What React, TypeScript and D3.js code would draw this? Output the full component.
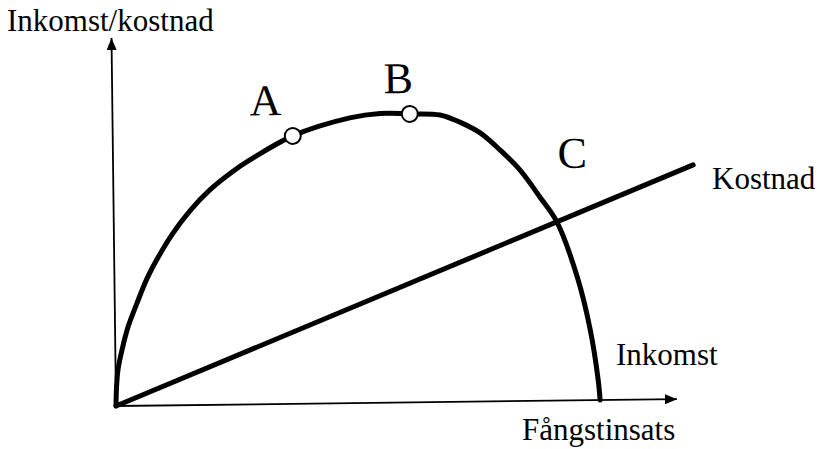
import React, { useRef, useEffect } from 'react'
import { select, scaleLinear, line, curveCatmullRom } from 'd3'

// Fångstinsats (effort) and inkomst (revenue)
const effort = [0, 0.13, 0.43, 1.19, 2.31, 3.97, 5.8, 7.81, 10.35, 13.6, 17.2, 21.2, 24.4, 32.1, 42.3, 47.7, 53.0, 58.4, 61.9, 65.5, 69.0, 72.5, 76.0, 79.0, 82.5, 84.7, 86.0, 86.3]
const income = [0, 4.9, 9.8, 15.2, 21.4, 27.9, 34.5, 40.2, 46.4, 52.8, 58.4, 63.2, 66.4, 72.8, 77.5, 78.6, 78.4, 78.0, 76.0, 73.0, 68.3, 62.8, 55.4, 48.5, 33.5, 19.1, 5.5, 0]

// Kostnad (cost) line
const costEffort = [0, 103.4]
const costValue = [0, 63.6]

// labelled points
const pointLabels = ['A', 'B', 'C']
const pointEffort = [32.1, 53.0, 79.0]
const pointIncome = [72.8, 78.4, 48.5]
const pointOpen = [true, true, false]

const width = 823
const height = 449

function App() {
  const svgRef = useRef(null)

  useEffect(() => {
    const svg = select(svgRef.current)
    svg.selectAll('*').remove()

    const x = scaleLinear().domain([0, 100]).range([116, 677])
    const y = scaleLinear().domain([0, 100]).range([406, 38])
    const font = '"Liberation Serif", "Times New Roman", serif'

    svg.append('defs')
      .append('marker')
      .attr('id', 'arrow')
      .attr('markerUnits', 'userSpaceOnUse')
      .attr('viewBox', '0 0 12 10')
      .attr('refX', 12)
      .attr('refY', 5)
      .attr('markerWidth', 12)
      .attr('markerHeight', 10)
      .attr('orient', 'auto')
      .append('path')
      .attr('d', 'M0,0 L12,5 L0,10 Z')
      .attr('fill', '#000')

    // scanned figure is slightly tilted
    const g = svg.append('g')
      .attr('transform', `rotate(-0.7, ${x(0)}, ${y(0)})`)

    // axes
    g.append('line')
      .attr('x1', x(0)).attr('y1', y(0))
      .attr('x2', x(100)).attr('y2', y(0))
      .attr('stroke', '#000').attr('stroke-width', 1.8)
      .attr('marker-end', 'url(#arrow)')
    g.append('line')
      .attr('x1', x(0)).attr('y1', y(0))
      .attr('x2', x(0)).attr('y2', y(100))
      .attr('stroke', '#000').attr('stroke-width', 1.8)
      .attr('marker-end', 'url(#arrow)')

    // income curve
    const pts = effort.map((e, i) => [e, income[i]])
    const lineGen = line().x(d => x(d[0])).y(d => y(d[1])).curve(curveCatmullRom.alpha(0.5))
    g.append('path')
      .datum(pts)
      .attr('d', lineGen)
      .attr('fill', 'none')
      .attr('stroke', '#000')
      .attr('stroke-width', 5)
      .attr('stroke-linecap', 'round')

    // cost line
    const costPts = costEffort.map((e, i) => [e, costValue[i]])
    g.append('path')
      .datum(costPts)
      .attr('d', line().x(d => x(d[0])).y(d => y(d[1])))
      .attr('fill', 'none')
      .attr('stroke', '#000')
      .attr('stroke-width', 5)
      .attr('stroke-linecap', 'round')

    // points
    const offsets = [[-27, -21], [-11, -21], [16, -54]]
    pointLabels.forEach((lab, i) => {
      const px = x(pointEffort[i])
      const py = y(pointIncome[i])
      if (pointOpen[i]) {
        g.append('circle')
          .attr('cx', px).attr('cy', py).attr('r', 8)
          .attr('fill', '#fff').attr('stroke', '#000').attr('stroke-width', 2)
      }
      g.append('text')
        .attr('x', px + offsets[i][0])
        .attr('y', py + offsets[i][1])
        .attr('text-anchor', 'middle')
        .style('font-family', font)
        .style('font-size', '44px')
        .text(lab)
    })

    // titles
    const titles = [
      { t: 'Inkomst/kostnad', x: 7, y: 31 },
      { t: 'Kostnad', x: 712, y: 189 },
      { t: 'Inkomst', x: 616, y: 365 },
      { t: 'Fångstinsats', x: 522, y: 440 },
    ]
    titles.forEach(d => {
      svg.append('text')
        .attr('x', d.x)
        .attr('y', d.y)
        .style('font-family', font)
        .style('font-size', '31px')
        .attr('fill', '#000')
        .text(d.t)
    })
  }, [])

  return (
    <svg
      ref={svgRef}
      width={width}
      height={height}
      viewBox={`0 0 ${width} ${height}`}
      style={{ position: 'absolute', left: 0, top: 0, background: '#fff' }}
    />
  )
}

export default App
